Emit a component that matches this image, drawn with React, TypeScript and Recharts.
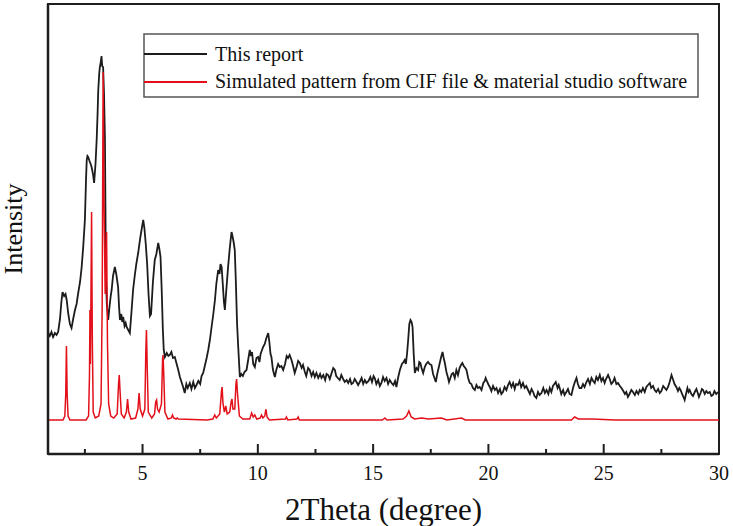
import React from "react";
import { LineChart, Line, XAxis, YAxis, ReferenceArea } from "recharts";

// 2θ (degree), intensity (a.u.) — experimental pattern ("This report")
const experimentalPattern: [number, number][] = [
  [0.91,121],[0.98,118],[1.05,122],[1.12,117],[1.2,121],[1.27,119],[1.34,122],[1.42,135],[1.48,152],[1.53,162],[1.6,158],[1.66,160],[1.71,154],[1.78,140],[1.85,130],[1.92,126],[2.0,136],[2.07,144],[2.14,150],[2.21,161],[2.29,172],[2.36,187],[2.43,208],[2.5,234],[2.55,275],[2.58,294],[2.61,298],[2.64,297],[2.7,293],[2.75,290],[2.79,287],[2.85,280],[2.9,271],[2.96,290],[3.01,314],[3.05,340],[3.08,364],[3.12,380],[3.15,387],[3.19,392],[3.22,398],[3.25,388],[3.29,387],[3.33,360],[3.37,314],[3.39,250],[3.41,181],[3.45,150],[3.51,134],[3.57,148],[3.62,158],[3.66,164],[3.72,178],[3.8,187],[3.86,180],[3.94,167],[3.98,148],[4.02,134],[4.08,140],[4.12,132],[4.16,137],[4.22,128],[4.27,131],[4.31,127],[4.38,124],[4.45,121],[4.52,142],[4.59,164],[4.66,178],[4.73,190],[4.81,201],[4.9,216],[4.97,226],[5.03,234],[5.08,226],[5.14,210],[5.2,190],[5.26,160],[5.32,138],[5.37,140],[5.45,172],[5.53,194],[5.6,200],[5.68,211],[5.73,205],[5.78,197],[5.83,165],[5.88,125],[5.92,104],[5.97,97],[6.05,101],[6.12,98],[6.18,99],[6.25,102],[6.32,96],[6.4,97],[6.48,90],[6.55,84],[6.62,77],[6.69,72],[6.76,67],[6.83,61],[6.9,70],[6.96,66],[7.05,71],[7.12,65],[7.2,72],[7.27,66],[7.34,69],[7.42,73],[7.5,70],[7.56,78],[7.63,81],[7.7,88],[7.78,96],[7.85,104],[7.92,114],[8.0,128],[8.07,140],[8.14,154],[8.2,170],[8.28,184],[8.34,180],[8.38,190],[8.43,187],[8.48,170],[8.53,152],[8.57,144],[8.62,160],[8.66,172],[8.71,187],[8.78,205],[8.82,214],[8.86,222],[8.9,218],[8.95,212],[9.0,204],[9.05,170],[9.1,130],[9.15,107],[9.22,77],[9.28,80],[9.35,78],[9.42,82],[9.51,84],[9.58,94],[9.65,104],[9.7,98],[9.75,102],[9.8,90],[9.87,87],[9.94,96],[10.01,97],[10.07,92],[10.12,100],[10.18,104],[10.23,107],[10.3,110],[10.37,116],[10.45,121],[10.5,112],[10.55,100],[10.59,97],[10.65,85],[10.7,80],[10.74,77],[10.8,84],[10.88,90],[10.95,87],[11.02,88],[11.1,84],[11.18,90],[11.25,98],[11.31,96],[11.38,99],[11.46,94],[11.53,88],[11.6,81],[11.68,87],[11.75,93],[11.82,91],[11.9,86],[11.96,89],[12.04,82],[12.1,78],[12.18,86],[12.25,84],[12.33,78],[12.4,82],[12.47,77],[12.54,81],[12.62,76],[12.7,80],[12.76,76],[12.84,79],[12.92,74],[12.98,80],[13.05,79],[13.12,75],[13.2,81],[13.27,86],[13.34,84],[13.4,78],[13.47,76],[13.55,74],[13.62,79],[13.7,75],[13.77,72],[13.85,74],[13.92,71],[14.0,75],[14.06,70],[14.13,71],[14.2,75],[14.28,72],[14.35,69],[14.42,72],[14.5,76],[14.57,70],[14.64,74],[14.71,71],[14.8,73],[14.88,77],[14.95,72],[15.02,78],[15.07,76],[15.14,70],[15.22,74],[15.29,68],[15.36,71],[15.43,77],[15.5,73],[15.58,76],[15.65,70],[15.72,74],[15.8,71],[15.88,69],[15.95,73],[16.01,67],[16.08,76],[16.16,84],[16.25,90],[16.32,92],[16.37,94],[16.42,90],[16.47,100],[16.52,114],[16.57,130],[16.62,134],[16.67,132],[16.71,127],[16.76,100],[16.81,81],[16.88,86],[16.95,84],[17.0,92],[17.05,91],[17.1,86],[17.17,81],[17.24,87],[17.3,90],[17.38,92],[17.45,90],[17.53,89],[17.6,80],[17.66,76],[17.72,72],[17.78,80],[17.84,86],[17.89,91],[17.95,97],[18.01,102],[18.06,96],[18.11,91],[18.18,82],[18.24,77],[18.29,72],[18.35,76],[18.41,80],[18.47,81],[18.54,76],[18.61,84],[18.68,79],[18.75,86],[18.81,89],[18.87,91],[18.93,88],[19.0,86],[19.05,84],[19.12,76],[19.19,71],[19.26,70],[19.33,66],[19.41,64],[19.48,69],[19.55,66],[19.62,67],[19.7,64],[19.78,71],[19.84,73],[19.88,76],[19.95,72],[20.01,69],[20.06,67],[20.13,63],[20.2,68],[20.28,64],[20.35,66],[20.42,61],[20.5,65],[20.56,60],[20.63,62],[20.7,67],[20.78,64],[20.85,69],[20.92,72],[21.0,67],[21.07,71],[21.14,65],[21.2,70],[21.28,69],[21.35,73],[21.42,67],[21.5,71],[21.57,66],[21.64,68],[21.72,64],[21.8,60],[21.87,65],[21.94,62],[22.0,58],[22.08,56],[22.15,62],[22.22,59],[22.3,61],[22.38,66],[22.45,61],[22.52,64],[22.6,60],[22.66,66],[22.73,62],[22.8,68],[22.86,70],[22.92,72],[23.0,66],[23.05,69],[23.09,66],[23.16,60],[23.24,64],[23.3,59],[23.38,62],[23.45,65],[23.52,60],[23.6,59],[23.68,67],[23.75,72],[23.82,76],[23.88,70],[23.95,66],[24.03,66],[24.1,70],[24.17,67],[24.25,72],[24.32,75],[24.4,70],[24.47,76],[24.54,73],[24.61,71],[24.68,77],[24.75,74],[24.83,79],[24.9,73],[24.97,76],[25.04,71],[25.1,75],[25.19,79],[25.26,75],[25.33,70],[25.4,72],[25.47,76],[25.55,70],[25.62,71],[25.7,68],[25.77,66],[25.85,63],[25.92,60],[25.98,62],[26.05,57],[26.12,60],[26.2,64],[26.27,62],[26.35,59],[26.42,63],[26.5,60],[26.56,64],[26.63,62],[26.7,66],[26.78,62],[26.85,67],[26.92,69],[27.0,71],[27.06,66],[27.14,68],[27.21,64],[27.28,62],[27.36,65],[27.43,61],[27.5,63],[27.58,68],[27.65,66],[27.72,64],[27.79,67],[27.86,72],[27.94,79],[28.0,75],[28.07,70],[28.15,67],[28.22,63],[28.28,66],[28.33,64],[28.4,60],[28.46,57],[28.51,54],[28.57,60],[28.63,66],[28.68,62],[28.73,64],[28.8,60],[28.87,58],[28.95,62],[29.02,65],[29.08,61],[29.13,57],[29.2,61],[29.26,65],[29.31,64],[29.38,60],[29.45,63],[29.52,61],[29.6,62],[29.67,58],[29.74,59],[29.8,63],[29.88,60],[29.96,62]
];

// 2θ (degree), intensity (a.u.) — simulated pattern (CIF & Materials Studio)
const simulatedPattern: [number, number][] = [
  [0.9,34],[1.55,34],[1.63,38],[1.67,60],[1.7,108],[1.73,60],[1.77,38],[1.85,34],
  [2.55,34],[2.66,38],[2.7,80],[2.72,144],[2.74,90],[2.76,150],[2.79,242],[2.82,120],[2.86,42],[2.95,36],
  [3.1,38],[3.2,50],[3.25,150],[3.29,382],[3.33,250],[3.38,160],[3.44,222],[3.48,110],[3.53,50],[3.62,38],[3.75,36],
  [3.9,40],[3.96,70],[3.99,79],[4.02,65],[4.08,40],[4.2,36],[4.3,42],[4.35,55],[4.4,42],[4.5,35],
  [4.7,36],[4.8,45],[4.85,61],[4.9,45],[5.0,38],[5.1,45],[5.14,100],[5.17,124],[5.2,90],[5.25,42],[5.4,36],
  [5.52,40],[5.57,52],[5.61,54],[5.65,45],[5.72,42],[5.82,50],[5.87,95],[5.89,99],[5.92,80],[5.97,42],[6.1,35],
  [6.25,36],[6.3,39],[6.35,36],[6.45,35],[6.5,36],[6.55,35],[7.8,34],[8.05,35],[8.13,39],[8.2,36],[8.35,40],[8.42,62],[8.45,67],[8.49,50],[8.55,42],[8.61,48],[8.67,40],[8.78,42],[8.85,53],[8.88,55],[8.92,45],[9.0,45],[9.05,70],[9.08,75],[9.12,60],[9.2,38],[9.35,35],
  [9.65,35],[9.73,41],[9.8,37],[9.87,39],[9.95,35],[10.1,36],[10.16,39],[10.22,36],[10.3,38],[10.35,45],[10.4,37],[10.5,34],[11.2,35],[11.24,37],[11.3,34],[11.7,35],[11.75,37],[11.8,34],
  [15.4,34],[15.51,36],[15.6,34],[16.3,35],[16.45,38],[16.55,43],[16.65,37],[16.8,35],[17.1,36],[17.4,35],[17.96,36],[18.2,34],[18.83,36],[19.0,34],[23.6,34],[23.74,37],[23.9,35],[24.5,35],[25.5,34],[30,34]
];

const xTicks = [2.5, 5, 7.5, 10, 12.5, 15, 17.5, 20, 22.5, 25, 27.5, 30];
const majorLabels = [5, 10, 15, 20, 25, 30];
const seriesNames = ["This report", "Simulated pattern from CIF file & material studio software"];
const xTitle = "2Theta (degree)";
const yTitle = "Intensity";

const blackData = experimentalPattern.map(([x, v]) => ({ x, v }));
const redData = simulatedPattern.map(([x, v]) => ({ x, v }));

const FONT = "'Liberation Serif', 'Times New Roman', serif";
const AXIS = "#1e1e1e";

const XTick = (props: any) => {
  const { x, y, payload } = props;
  const major = majorLabels.includes(payload.value);
  return (
    <g>
      <line x1={x} x2={x} y1={y} y2={y - (major ? 10 : 5)} stroke={AXIS} strokeWidth={2} />
      {major && (
        <text x={x} y={y + 25.5} textAnchor="middle" fontSize={20} fontFamily={FONT} fill="#111">
          {payload.value}
        </text>
      )}
    </g>
  );
};

const YLabel = (props: any) => {
  const vb = props.viewBox || { x: 0, y: 4, width: 48, height: 450 };
  const cx = 21.5;
  const cy = vb.y + vb.height / 2;
  return (
    <text
      x={cx}
      y={cy}
      transform={`rotate(-90 ${cx} ${cy})`}
      textAnchor="middle"
      fontSize={26}
      fontFamily={FONT}
      fill="#111"
    >
      {yTitle}
    </text>
  );
};

const XLabel = (props: any) => {
  const vb = props.viewBox || { x: 48, y: 454, width: 670, height: 72 };
  return (
    <text x={vb.x + vb.width / 2} y={520} textAnchor="middle" fontSize={31} fontFamily={FONT} fill="#111">
      {xTitle}
    </text>
  );
};

export default function App() {
  return (
    <div style={{ position: "absolute", left: 0, top: 0, width: 733, height: 526, background: "#fff" }}>
      <LineChart width={733} height={526} margin={{ top: 4, right: 14, bottom: 0, left: 0 }}>
        <XAxis
          dataKey="x"
          type="number"
          domain={[0.9, 30]}
          ticks={xTicks}
          interval={0}
          tick={<XTick />}
          tickLine={false}
          tickSize={0}
          tickMargin={0}
          height={72}
          axisLine={{ stroke: AXIS, strokeWidth: 2.5 }}
          label={<XLabel />}
          allowDataOverflow
        />
        <YAxis
          type="number"
          domain={[0, 450]}
          width={48}
          tick={false}
          tickLine={false}
          axisLine={{ stroke: AXIS, strokeWidth: 2.5 }}
          label={<YLabel />}
          allowDataOverflow
        />
        <ReferenceArea
          x1={0.9}
          x2={30}
          y1={0}
          y2={450}
          fill="none"
          fillOpacity={0}
          stroke={AXIS}
          strokeWidth={2}
          ifOverflow="visible"
        />
        <Line
          data={blackData}
          dataKey="v"
          type="linear"
          stroke="#1c1c1c"
          strokeWidth={1.8}
          dot={false}
          isAnimationActive={false}
          name={seriesNames[0]}
        />
        <Line
          data={redData}
          dataKey="v"
          type="linear"
          stroke="#e3101a"
          strokeWidth={1.5}
          dot={false}
          isAnimationActive={false}
          name={seriesNames[1]}
        />
      </LineChart>
      <svg
        width={556}
        height={66}
        style={{ position: "absolute", left: 143, top: 33 }}
      >
        <rect x={1} y={1} width={554} height={63} fill="#fff" stroke="#555" strokeWidth={1.5} />
        <line x1={1} x2={64} y1={21} y2={21} stroke="#1c1c1c" strokeWidth={2} />
        <text x={72} y={27.5} fontSize={20} fontFamily={FONT} fill="#111">{seriesNames[0]}</text>
        <line x1={1} x2={64} y1={49} y2={49} stroke="#e3101a" strokeWidth={2} />
        <text x={72} y={55} fontSize={20} fontFamily={FONT} fill="#111">{seriesNames[1]}</text>
      </svg>
    </div>
  );
}
